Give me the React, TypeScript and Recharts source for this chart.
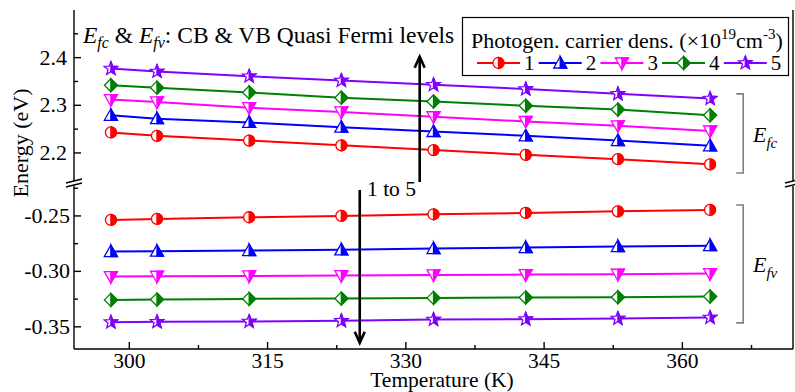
import React from "react"
import { LineChart, Line, XAxis, YAxis, ReferenceLine, ReferenceDot } from "recharts"

// ============================================================
// Data
// ============================================================

const temperature = [298, 303, 313, 323, 333, 343, 353, 363]

// CB quasi Fermi level E_fc (eV)
const efc1 = [2.243, 2.236, 2.226, 2.216, 2.206, 2.196, 2.187, 2.176]
const efc2 = [2.279, 2.272, 2.264, 2.254, 2.245, 2.236, 2.226, 2.215]
const efc3 = [2.312, 2.307, 2.295, 2.286, 2.276, 2.266, 2.257, 2.246]
const efc4 = [2.342, 2.337, 2.327, 2.316, 2.308, 2.299, 2.291, 2.279]
const efc5 = [2.377, 2.371, 2.361, 2.352, 2.343, 2.334, 2.324, 2.314]

// VB quasi Fermi level E_fv (eV)
const efv1 = [-0.2536, -0.2527, -0.2512, -0.25, -0.2485, -0.2473, -0.2458, -0.2446]
const efv2 = [-0.2821, -0.2818, -0.2812, -0.2806, -0.2794, -0.2785, -0.2776, -0.2768]
const efv3 = [-0.3047, -0.3044, -0.3041, -0.3038, -0.3032, -0.3029, -0.3026, -0.302]
const efv4 = [-0.3257, -0.3254, -0.3248, -0.3245, -0.3239, -0.3236, -0.3233, -0.3227]
const efv5 = [-0.3458, -0.3455, -0.3452, -0.3446, -0.3434, -0.3431, -0.3425, -0.3416]

const seriesNames = ["1", "2", "3", "4", "5"]
const seriesColors = ["#FF0000", "#0000FF", "#FF00FF", "#008000", "#8000FF"]
const seriesShapes = ["circle", "triangleUp", "triangleDown", "diamond", "star"]

const xMajorTicks = [300, 315, 330, 345, 360]
const xMinorTicks = [307.5, 322.5, 337.5, 352.5, 367.5]
const upperMajorTicks = [2.2, 2.3, 2.4]
const upperMinorTicks = [2.25, 2.35, 2.45]
const lowerMajorTicks = [-0.35, -0.3, -0.25]
const lowerMinorTicks = [-0.325, -0.275, -0.225]

const xDomain: [number, number] = [294, 372]
const upperDomain: [number, number] = [2.139, 2.5]
const lowerDomain: [number, number] = [-0.37, -0.223]

const efcSeries = [efc1, efc2, efc3, efc4, efc5]
const efvSeries = [efv1, efv2, efv3, efv4, efv5]

const upperData = temperature.map((t, k) => {
  const row: Record<string, number> = { t }
  efcSeries.forEach((s, i) => (row[`s${i}`] = s[k]))
  return row
})

const lowerData = temperature.map((t, k) => {
  const row: Record<string, number> = { t }
  efvSeries.forEach((s, i) => (row[`s${i}`] = s[k]))
  return row
})

// ============================================================
// Styles
// ============================================================

const FONT = '"Liberation Serif", "Times New Roman", Times, serif'
const serif: React.CSSProperties = { fontFamily: FONT }
const axisLine = { stroke: "#000", strokeWidth: 1.4 }
const W = 795
const H = 392

// ============================================================
// Markers (half filled symbols)
// ============================================================

function starPoints(cx: number, cy: number, R: number, r: number, from: number, to: number) {
  const pts: string[] = []
  for (let k = from; k <= to; k++) {
    const a = ((-90 + 36 * k) * Math.PI) / 180
    const rad = k % 2 === 0 ? R : r
    pts.push(`${cx + rad * Math.cos(a)},${cy + rad * Math.sin(a)}`)
  }
  return pts.join(" ")
}

function Marker({ shape, cx, cy, color }: { shape: string; cx?: number; cy?: number; color: string }) {
  if (cx == null || cy == null) return null
  const sw = 1.3
  if (shape === "circle") {
    const r = 5.5
    return (
      <g>
        <circle cx={cx} cy={cy} r={r} fill="#fff" stroke={color} strokeWidth={sw} />
        <path d={`M${cx},${cy - r} A${r},${r} 0 0 1 ${cx},${cy + r} Z`} fill={color} stroke={color} strokeWidth={sw} />
      </g>
    )
  }
  let full = ""
  let half = ""
  if (shape === "triangleUp") {
    full = `${cx},${cy - 6.5} ${cx + 6.5},${cy + 5} ${cx - 6.5},${cy + 5}`
    half = `${cx},${cy - 6.5} ${cx + 6.5},${cy + 5} ${cx},${cy + 5}`
  } else if (shape === "triangleDown") {
    full = `${cx - 6.5},${cy - 5} ${cx + 6.5},${cy - 5} ${cx},${cy + 6.5}`
    half = `${cx},${cy - 5} ${cx + 6.5},${cy - 5} ${cx},${cy + 6.5}`
  } else if (shape === "diamond") {
    full = `${cx},${cy - 6.5} ${cx + 6.5},${cy} ${cx},${cy + 6.5} ${cx - 6.5},${cy}`
    half = `${cx},${cy - 6.5} ${cx + 6.5},${cy} ${cx},${cy + 6.5}`
  } else {
    full = starPoints(cx, cy, 7, 3, 0, 9)
    half = starPoints(cx, cy, 7, 3, 0, 5)
  }
  return (
    <g>
      <polygon points={full} fill="#fff" stroke={color} strokeWidth={sw} strokeLinejoin="miter" />
      <polygon points={half} fill={color} stroke={color} strokeWidth={sw} strokeLinejoin="miter" />
    </g>
  )
}

// ============================================================
// Inward ticks
// ============================================================

const BottomXTick = (props: any) => {
  const { x, y, payload } = props
  const major = xMajorTicks.includes(payload.value)
  return (
    <g>
      <line x1={x} x2={x} y1={y} y2={y - (major ? 7 : 4)} stroke="#000" strokeWidth={1.4} />
      {major && (
        <text x={x} y={y + 19} textAnchor="middle" fontFamily={FONT} style={serif} fontSize={21.5} fill="#000">
          {payload.value}
        </text>
      )}
    </g>
  )
}

const TopXTick = (props: any) => {
  const { x, y, payload } = props
  const major = xMajorTicks.includes(payload.value)
  return <line x1={x} x2={x} y1={y} y2={y + (major ? 7 : 4)} stroke="#000" strokeWidth={1.4} />
}

function makeYTick(majors: number[], digits: number, gap: number) {
  return (props: any) => {
    const { x, y, payload } = props
    const major = majors.includes(payload.value)
    return (
      <g>
        <line x1={x} x2={x + (major ? 7 : 4)} y1={y} y2={y} stroke="#000" strokeWidth={1.4} />
        {major && (
          <text x={x - gap} y={y + 7} textAnchor="end" fontFamily={FONT} style={serif} fontSize={22} fill="#000">
            {payload.value.toFixed(digits)}
          </text>
        )}
      </g>
    )
  }
}

const UpperYTick = makeYTick(upperMajorTicks, 1, 7)
const LowerYTick = makeYTick(lowerMajorTicks, 2, 4)

// ============================================================
// Annotation shapes
// ============================================================

const ArrowShape = (props: any) => {
  const { x1, y1, x2, y2 } = props
  const dir = y2 < y1 ? 1 : -1
  return (
    <g stroke="#000" strokeWidth={2.6} fill="none">
      <line x1={x1} y1={y1} x2={x2} y2={y2} />
      <polyline points={`${x2 - 5},${y2 + dir * 11} ${x2},${y2} ${x2 + 5},${y2 + dir * 11}`} />
    </g>
  )
}

const BracketShape = (props: any) => {
  const { x1, y1, y2 } = props
  return (
    <path d={`M${x1 - 7},${y1} H${x1} V${y2} H${x1 - 7}`} fill="none" stroke="#7f7f7f" strokeWidth={1.6} />
  )
}

const BreakShape = (props: any) => {
  const { cx, cy } = props
  return (
    <g>
      <rect x={cx - 2} y={cy - 1} width={4} height={5} fill="#fff" />
      <g stroke="#000" strokeWidth={1.4}>
        <line x1={cx - 8} y1={cy + 1} x2={cx + 8} y2={cy - 3} />
        <line x1={cx - 8} y1={cy + 5} x2={cx + 8} y2={cy + 1} />
      </g>
    </g>
  )
}

function seriesLines(prefix: string) {
  return seriesNames.map((name, i) => (
    <Line
      key={`${prefix}-${name}`}
      yAxisId="l"
      type="linear"
      dataKey={`s${i}`}
      stroke={seriesColors[i]}
      strokeWidth={2}
      isAnimationActive={false}
      activeDot={false}
      dot={(p: any) => (
        <Marker key={`${prefix}-${name}-${p.index}`} shape={seriesShapes[i]} cx={p.cx} cy={p.cy} color={seriesColors[i]} />
      )}
    />
  ))
}

// ============================================================
// App
// ============================================================

export default function App() {
  const layer: React.CSSProperties = { position: "absolute", left: 0, top: 0, width: W, height: H }

  return (
    <div
      style={{
        position: "absolute",
        left: 0,
        top: 0,
        width: W,
        height: H,
        background: "#fff",
        overflow: "hidden",
        fontFamily: FONT,
      }}
    >
      {/* Upper panel: E_fc */}
      <div style={layer}>
        <LineChart width={W} height={H} data={upperData} margin={{ top: 10, right: 0, bottom: 210, left: 0 }}>
          <XAxis
            dataKey="t"
            type="number"
            orientation="top"
            domain={xDomain}
            ticks={[...xMajorTicks, ...xMinorTicks]}
            interval={0}
            height={0}
            tickSize={0}
            tickMargin={0}
            tickLine={false}
            axisLine={axisLine}
            tick={TopXTick}
            allowDataOverflow
          />
          <YAxis
            yAxisId="l"
            type="number"
            domain={upperDomain}
            ticks={[...upperMajorTicks, ...upperMinorTicks]}
            interval={0}
            width={74}
            tickSize={0}
            tickMargin={0}
            tickLine={false}
            axisLine={axisLine}
            tick={UpperYTick}
            allowDataOverflow
          />
          <YAxis yAxisId="r" orientation="right" type="number" domain={upperDomain} width={2} tick={false} tickLine={false} axisLine={axisLine} />
          {seriesLines("u")}
          <ReferenceLine
            yAxisId="l"
            segment={[{ x: 331.5, y: 2.139 }, { x: 331.5, y: 2.402 }]}
            ifOverflow="visible"
            shape={ArrowShape}
          />
          <ReferenceLine
            yAxisId="l"
            segment={[{ x: 366.6, y: 2.324 }, { x: 366.6, y: 2.158 }]}
            ifOverflow="visible"
            shape={BracketShape}
          />
          <ReferenceDot yAxisId="l" x={294} y={2.139} ifOverflow="visible" shape={BreakShape} />
          <ReferenceDot yAxisId="l" x={372} y={2.139} ifOverflow="visible" shape={BreakShape} />
        </LineChart>
      </div>

      {/* Lower panel: E_fv */}
      <div style={layer}>
        <LineChart width={W} height={H} data={lowerData} margin={{ top: 186, right: 0, bottom: 0, left: 0 }}>
          <XAxis
            dataKey="t"
            type="number"
            domain={xDomain}
            ticks={[...xMajorTicks, ...xMinorTicks]}
            interval={0}
            height={43}
            tickSize={0}
            tickMargin={0}
            tickLine={false}
            axisLine={axisLine}
            tick={BottomXTick}
            allowDataOverflow
          />
          <YAxis
            yAxisId="l"
            type="number"
            domain={lowerDomain}
            ticks={[...lowerMajorTicks, ...lowerMinorTicks]}
            interval={0}
            width={74}
            tickSize={0}
            tickMargin={0}
            tickLine={false}
            axisLine={axisLine}
            tick={LowerYTick}
            allowDataOverflow
          />
          <YAxis yAxisId="r" orientation="right" type="number" domain={lowerDomain} width={2} tick={false} tickLine={false} axisLine={axisLine} />
          {seriesLines("l")}
          <ReferenceLine
            yAxisId="l"
            segment={[{ x: 325, y: -0.2266 }, { x: 325, y: -0.3644 }]}
            ifOverflow="visible"
            shape={ArrowShape}
          />
          <ReferenceLine
            yAxisId="l"
            segment={[{ x: 366.6, y: -0.2401 }, { x: 366.6, y: -0.3464 }]}
            ifOverflow="visible"
            shape={BracketShape}
          />
        </LineChart>
      </div>

      {/* Text annotations and legend */}
      <svg style={{ ...layer, pointerEvents: "none", ...serif }} width={W} height={H} fontFamily={FONT} fill="#000">
        <text transform="translate(28,143) rotate(-90)" textAnchor="middle" fontSize={22}>
          Energy (eV)
        </text>
        <text x={442} y={386.5} textAnchor="middle" fontSize={21.5}>
          Temperature (K)
        </text>

        <text x={83} y={43} fontSize={23.5}>
          <tspan fontStyle="italic">E</tspan>
          <tspan fontStyle="italic" fontSize={16} dy={5}>fc</tspan>
          <tspan dy={-5}> &amp; </tspan>
          <tspan fontStyle="italic">E</tspan>
          <tspan fontStyle="italic" fontSize={16} dy={5}>fv</tspan>
          <tspan dy={-5}>: CB &amp; VB Quasi Fermi levels</tspan>
        </text>

        <text x={367} y={196} fontSize={21.5}>
          1 to 5
        </text>

        <text x={753} y={142} fontSize={22}>
          <tspan fontStyle="italic">E</tspan>
          <tspan fontStyle="italic" fontSize={15} dy={6}>fc</tspan>
        </text>
        <text x={753} y={272} fontSize={22}>
          <tspan fontStyle="italic">E</tspan>
          <tspan fontStyle="italic" fontSize={15} dy={6}>fv</tspan>
        </text>

        <rect x={462.5} y={17.5} width={326} height={58} fill="#fff" stroke="#000" strokeWidth={1.2} />
        <text x={471} y={48} fontSize={22}>
          Photogen. carrier dens. (×10
          <tspan fontSize={15} dy={-9}>19</tspan>
          <tspan dy={9}>cm</tspan>
          <tspan fontSize={15} dy={-9}>-3</tspan>
          <tspan dy={9}>)</tspan>
        </text>
        {seriesNames.map((name, i) => {
          const x0 = 477 + i * 61.7
          const y0 = 63
          return (
            <g key={`leg-${name}`}>
              <line x1={x0} x2={x0 + 43} y1={y0} y2={y0} stroke={seriesColors[i]} strokeWidth={2} />
              <Marker shape={seriesShapes[i]} cx={x0 + 21.5} cy={y0} color={seriesColors[i]} />
              <text x={x0 + 47} y={y0 + 7} fontSize={21}>
                {name}
              </text>
            </g>
          )
        })}
      </svg>
    </div>
  )
}
